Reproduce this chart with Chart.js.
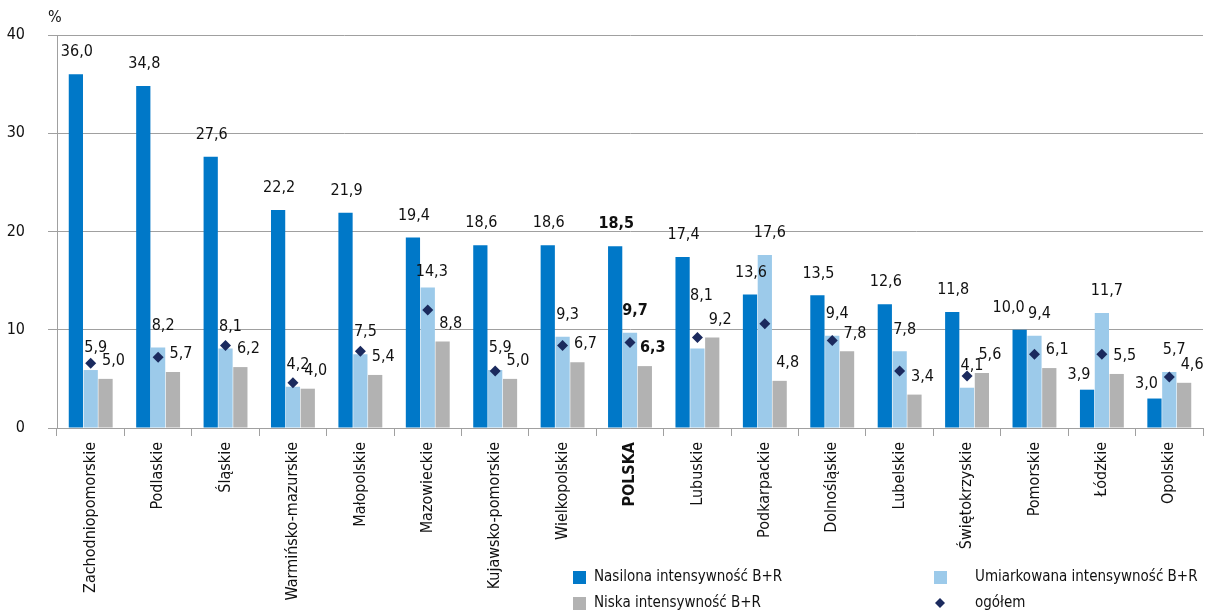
<!DOCTYPE html>
<html lang="pl">
<head>
<meta charset="utf-8">
<script src="https://cdn.jsdelivr.net/npm/chart.js@4.4.0/dist/chart.umd.min.js"></script>
<style>
  html, body { margin: 0; padding: 0; background: #fff; }
  #wrap { width: 1212px; height: 612px; position: relative; }
</style>
</head>
<body>
<div id="wrap"><canvas id="chart"></canvas></div>
<script>
// dane z wykresu
const wojewodztwa = [
  "Zachodniopomorskie", "Podlaskie", "Śląskie", "Warmińsko-mazurskie",
  "Małopolskie", "Mazowieckie", "Kujawsko-pomorskie", "Wielkopolskie",
  "POLSKA", "Lubuskie", "Podkarpackie", "Dolnośląskie", "Lubelskie",
  "Świętokrzyskie", "Pomorskie", "Łódzkie", "Opolskie"
];
const nasilona = [36.0, 34.8, 27.6, 22.2, 21.9, 19.4, 18.6, 18.6, 18.5, 17.4, 13.6, 13.5, 12.6, 11.8, 10.0, 3.9, 3.0];
const umiarkowana = [5.9, 8.2, 8.1, 4.2, 7.5, 14.3, 5.9, 9.3, 9.7, 8.1, 17.6, 9.4, 7.8, 4.1, 9.4, 11.7, 5.7];
const niska = [5.0, 5.7, 6.2, 4.0, 5.4, 8.8, 5.0, 6.7, 6.3, 9.2, 4.8, 7.8, 3.4, 5.6, 6.1, 5.5, 4.6];
const ogolem = [6.6, 7.2, 8.4, 4.6, 7.8, 12.0, 5.8, 8.4, 8.7, 9.2, 10.6, 8.9, 5.8, 5.3, 7.5, 7.5, 5.2];
const osY = [0, 10, 20, 30, 40];

const FONT = "'DejaVu Sans Condensed', 'Liberation Sans Narrow', sans-serif";
const indeksPolska = wojewodztwa.indexOf("POLSKA");
const fmt = (v) => v.toFixed(1).replace(".", ",");

// przesuniecia pojedynczych etykiet (seria:indeks -> [dx, dy])
const korekty = {
  "1:5": [4, 8],    // Mazowieckie
  "1:9": [4, 45],   // Lubuskie
  "0:14": [-11, 14], // Pomorskie
  "0:15": [-8, 7],  // Łódzkie
  "0:16": [-8, 7],  // Opolskie
};

// etykiety wartosci nad slupkami
const etykiety = {
  id: "etykiety",
  afterDatasetsDraw(chart) {
    const ctx = chart.ctx;
    ctx.save();
    ctx.textAlign = "center";
    ctx.textBaseline = "bottom";
    ctx.fillStyle = "#111";
    chart.data.datasets.forEach((ds, i) => {
      if (ds.type === "line") return;
      const meta = chart.getDatasetMeta(i);
      meta.data.forEach((bar, j) => {
        ctx.font = (j === indeksPolska ? "bold " : "") + "16px " + FONT;
        let [dx, dy] = [[1, 14], [5, 14], [8, 10]][i];
        const k = korekty[i + ":" + j];
        if (k) [dx, dy] = k;
        ctx.fillText(fmt(ds.data[j]), bar.x + dx, bar.y - dy);
      });
    });
    ctx.restore();
  },
};

// legenda i znak %
const legendaWlasna = {
  id: "legendaWlasna",
  afterDraw(chart) {
    const ctx = chart.ctx;
    const ds = chart.data.datasets;
    ctx.save();
    ctx.fillStyle = "#111";
    ctx.font = "16px " + FONT;
    ctx.textBaseline = "middle";
    ctx.textAlign = "left";
    ctx.fillText("%", 48, 18);

    const pozycje = [
      { x: 573, y: 577 }, // Nasilona
      { x: 934, y: 577 }, // Umiarkowana
      { x: 573, y: 603 }, // Niska
      { x: 934, y: 603 }, // ogolem
    ];
    ctx.font = "15px " + FONT;
    ds.forEach((d, i) => {
      const p = pozycje[i];
      ctx.fillStyle = d.backgroundColor;
      if (d.type === "line") {
        ctx.beginPath();
        ctx.moveTo(p.x + 6, p.y - 5);
        ctx.lineTo(p.x + 11, p.y);
        ctx.lineTo(p.x + 6, p.y + 5);
        ctx.lineTo(p.x + 1, p.y);
        ctx.closePath();
        ctx.fill();
      } else {
        ctx.fillRect(p.x, p.y - 6, 13, 13);
      }
      ctx.fillStyle = "#111";
      ctx.fillText(d.label, p.x + (i % 2 === 0 ? 21 : 41), p.y);
    });
    ctx.restore();
  },
};

const ctx = document.getElementById("chart").getContext("2d");
new Chart(ctx, {
  type: "bar",
  data: {
    labels: wojewodztwa,
    datasets: [
      { label: "Nasilona intensywność B+R", data: nasilona, backgroundColor: "#0078c8", order: 1 },
      { label: "Umiarkowana intensywność B+R", data: umiarkowana, backgroundColor: "#9ccaea", order: 1 },
      { label: "Niska intensywność B+R", data: niska, backgroundColor: "#b2b2b2", order: 1 },
      {
        type: "line",
        label: "ogółem",
        data: ogolem,
        showLine: false,
        pointStyle: "rectRot",
        pointRadius: 5.5,
        borderWidth: 0,
        backgroundColor: "#1b2a5e",
        borderColor: "#1b2a5e",
        order: 0,
      },
    ],
  },
  options: {
    responsive: true,
    maintainAspectRatio: false,
    animation: false,
    events: [],
    layout: { padding: { top: 35, right: 9, left: 0, bottom: 0 } },
    datasets: {
      bar: { categoryPercentage: 0.66, barPercentage: 0.96 },
    },
    plugins: {
      legend: { display: false },
      tooltip: { enabled: false },
    },
    scales: {
      x: {
        afterFit: (s) => { s.height = 184; },
        grid: {
          offset: true,
          drawOnChartArea: false,
          drawTicks: true,
          tickLength: 8,
          color: "#a0a0a0",
        },
        border: { color: "#a0a0a0" },
        ticks: {
          minRotation: 90,
          maxRotation: 90,
          autoSkip: false,
          padding: 6,
          color: "#111",
          font: (c) => ({ family: FONT, size: 16, weight: c.index === indeksPolska ? "bold" : "normal" }),
        },
      },
      y: {
        min: 0,
        max: 40,
        afterFit: (s) => { s.width = 57; },
        afterBuildTicks: (s) => { s.ticks = osY.map((v) => ({ value: v })); },
        grid: { color: "#a0a0a0", tickLength: 9 },
        border: { color: "#a0a0a0" },
        ticks: {
          padding: 23,
          color: "#111",
          font: { family: FONT, size: 16 },
        },
      },
    },
  },
  plugins: [etykiety, legendaWlasna],
});
</script>
</body>
</html>
